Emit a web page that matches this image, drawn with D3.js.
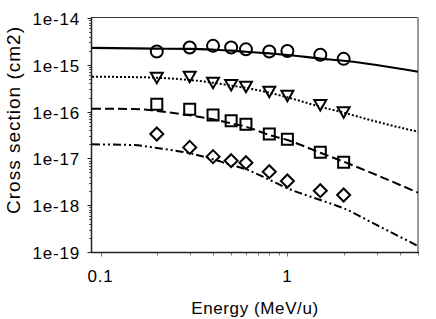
<!DOCTYPE html>
<html><head><meta charset="utf-8">
<script src="https://cdn.jsdelivr.net/npm/d3@7"></script>
<style>
body{margin:0;background:#fff;}
text{font-family:"Liberation Sans",Arial,Helvetica,sans-serif;fill:#000;}
</style>
</head><body>
<svg id="chart" width="436" height="319"></svg>
<script>
// ---- data ----
const energies = [0.2, 0.3, 0.4, 0.5, 0.6, 0.8, 1.0, 1.5, 2.0];
const circleValues   = [1.92e-15, 2.34e-15, 2.54e-15, 2.34e-15, 2.14e-15, 1.93e-15, 1.97e-15, 1.64e-15, 1.34e-15];
const triangleValues = [5.30e-16, 5.57e-16, 4.15e-16, 3.71e-16, 3.41e-16, 2.66e-16, 2.19e-16, 1.38e-16, 9.67e-17];
const squareValues   = [1.43e-16, 1.12e-16, 8.46e-17, 6.39e-17, 5.36e-17, 3.32e-17, 2.56e-17, 1.35e-17, 8.26e-18];
const diamondValues  = [3.32e-17, 1.72e-17, 1.09e-17, 8.93e-18, 8.09e-18, 5.20e-18, 3.29e-18, 2.04e-18, 1.65e-18];

const curveEnergies = [0.09, 0.15, 0.2, 0.3, 0.4, 0.5, 0.6, 0.8, 1.0, 1.5, 2.0, 3.0, 5.0];
const solidCurve   = [2.29e-15, 2.25e-15, 2.21e-15, 2.18e-15, 2.10e-15, 2.01e-15, 1.90e-15, 1.75e-15, 1.62e-15, 1.36e-15, 1.22e-15, 9.9e-16, 7.1e-16];
const dottedCurve  = [5.57e-16, 5.45e-16, 5.30e-16, 4.73e-16, 4.15e-16, 3.60e-16, 3.20e-16, 2.54e-16, 2.02e-16, 1.27e-16, 9.5e-17, 6.08e-17, 3.72e-17];
const dashedCurve  = [1.15e-16, 1.14e-16, 1.03e-16, 8.34e-17, 6.84e-17, 5.62e-17, 4.75e-17, 3.16e-17, 2.47e-17, 1.32e-17, 8.5e-18, 4.41e-18, 1.85e-18];
const dashDotCurve = [2.00e-17, 1.93e-17, 1.67e-17, 1.29e-17, 9.57e-18, 7.23e-18, 5.85e-18, 3.50e-18, 2.30e-18, 1.29e-18, 8.6e-19, 3.78e-19, 1.34e-19];

const xTickValues = [0.1, 1];
const xTickLabels = ["0.1", "1"];
const yTickValues = [1e-14, 1e-15, 1e-16, 1e-17, 1e-18, 1e-19];
const yTickLabels = ["1e-14", "1e-15", "1e-16", "1e-17", "1e-18", "1e-19"];
const xTitle = "Energy (MeV/u)";
const yTitle = "Cross section (cm2)";

// ---- layout ----
const L = 92, R = 418, T = 18, B = 252;
const svg = d3.select("#chart");
const x = d3.scaleLog().domain([0.09, 5]).range([L, R]);
const y = d3.scaleLog().domain([1e-19, 1e-14]).range([B, T]);

// border (top dark, right gray)
svg.append("line").attr("x1", L).attr("x2", R).attr("y1", T - 0.5).attr("y2", T - 0.5)
  .attr("stroke", "#333").attr("stroke-width", 1);
svg.append("line").attr("x1", R).attr("x2", R).attr("y1", T - 1).attr("y2", B)
  .attr("stroke", "#999").attr("stroke-width", 2);

// y axis
const yG = svg.append("g").attr("transform", `translate(${L - 0.5},0)`);
const minorY = [];
for (let e = -19; e < -14; e++) for (let k = 2; k <= 9; k++) minorY.push(k * Math.pow(10, e));
yG.selectAll(".ymin").data(minorY).join("line")
  .attr("x1", -2.5).attr("x2", 0).attr("y1", d => Math.round(y(d)) + 0.5).attr("y2", d => Math.round(y(d)) + 0.5)
  .attr("stroke", "#555").attr("stroke-width", 1);
yG.selectAll(".ymaj").data(yTickValues).join("line")
  .attr("x1", -4).attr("x2", 0).attr("y1", d => Math.round(y(d)) + 0.5).attr("y2", d => Math.round(y(d)) + 0.5)
  .attr("stroke", "#222").attr("stroke-width", 1);
yG.append("line").attr("x1", 0).attr("x2", 0).attr("y1", T - 1).attr("y2", B + 1)
  .attr("stroke", "#222").attr("stroke-width", 1.5);
svg.selectAll(".ylab").data(yTickValues).join("text")
  .attr("x", 80).attr("y", d => y(d) + 7)
  .attr("text-anchor", "end").attr("font-size", 17).attr("letter-spacing", 0.8)
  .text((d, i) => yTickLabels[i]);

// x axis
const xG = svg.append("g").attr("transform", `translate(0,${B + 0.5})`);
const minorX = [0.2,0.3,0.4,0.5,0.6,0.7,0.8,0.9,2,3,4,5];
xG.selectAll(".xmin").data(minorX).join("line")
  .attr("x1", d => Math.round(x(d)) + 0.5).attr("x2", d => Math.round(x(d)) + 0.5)
  .attr("y1", 0).attr("y2", 3).attr("stroke", "#777").attr("stroke-width", 1);
xG.selectAll(".xmaj").data(xTickValues).join("line")
  .attr("x1", d => Math.round(x(d)) + 0.5).attr("x2", d => Math.round(x(d)) + 0.5)
  .attr("y1", 0).attr("y2", 4).attr("stroke", "#777").attr("stroke-width", 1);
xG.append("line").attr("x1", L - 1).attr("x2", R + 1).attr("y1", 0).attr("y2", 0)
  .attr("stroke", "#222").attr("stroke-width", 1.5);
svg.selectAll(".xlab").data(xTickValues).join("text")
  .attr("x", d => x(d)).attr("y", 282)
  .attr("text-anchor", "middle").attr("font-size", 17).attr("letter-spacing", 0.8)
  .text((d, i) => xTickLabels[i]);

// titles
svg.append("text").attr("x", (L + R) / 2).attr("y", 314)
  .attr("text-anchor", "middle").attr("font-size", 17).attr("letter-spacing", 0.6)
  .text(xTitle);
svg.append("text").attr("transform", "translate(19.5,120) rotate(-90)")
  .attr("text-anchor", "middle").attr("font-size", 19).attr("letter-spacing", 1)
  .text(yTitle);

// curves
const line = d3.line().x(d => x(d[0])).y(d => y(d[1])).curve(d3.curveMonotoneX);
const curves = [
  {vals: solidCurve, dash: null, w: 2.2},
  {vals: dottedCurve, dash: "2,2", w: 2},
  {vals: dashedCurve, dash: "9,4", w: 2},
  {vals: dashDotCurve, dash: "8,3,2,3,2,3", w: 2}
];
const plot = svg.append("g");
curves.forEach(c => {
  plot.append("path")
    .datum(curveEnergies.map((e, i) => [e, c.vals[i]]))
    .attr("d", line).attr("fill", "none").attr("stroke", "#000")
    .attr("stroke-width", c.w).attr("stroke-dasharray", c.dash);
});

// markers
const shapes = {
  circle: "M6,0A6,6 0 1,1 -6,0A6,6 0 1,1 6,0Z",
  triangle: "M-6,-5L6,-5L0,5.5Z",
  square: "M-5.5,-5.5L5.5,-5.5L5.5,5.5L-5.5,5.5Z",
  diamond: "M0,-6.5L6.5,0L0,6.5L-6.5,0Z"
};
const series = [
  {vals: circleValues, shape: "circle"},
  {vals: triangleValues, shape: "triangle"},
  {vals: squareValues, shape: "square"},
  {vals: diamondValues, shape: "diamond"}
];
series.forEach(s => {
  plot.selectAll(null).data(energies.map((e, i) => [e, s.vals[i]])).join("path")
    .attr("transform", d => `translate(${x(d[0])},${y(d[1])})`)
    .attr("d", shapes[s.shape]).attr("fill", "none").attr("stroke", "#000").attr("stroke-width", 2);
});
</script>
</body></html>
